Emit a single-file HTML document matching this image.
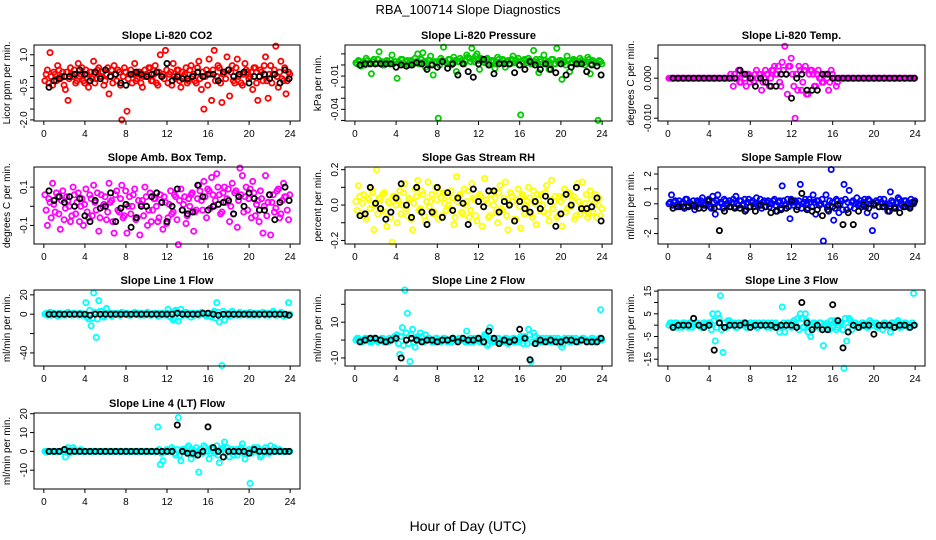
<!DOCTYPE html>
<html><head><meta charset="utf-8"><style>
html,body{margin:0;padding:0;background:#fff;}
svg{display:block;font-family:"Liberation Sans",sans-serif;}
</style></head><body>
<svg id="c" width="936" height="540" viewBox="0 0 936 540">
<text x="468" y="14" text-anchor="middle" font-size="13">RBA_100714  Slope Diagnostics</text>
<text x="468" y="531" text-anchor="middle" font-size="14">Hour of Day (UTC)</text>
</svg>
<script>
const hours = [0.1,0.35,0.6,0.85,1.1,1.35,1.6,1.85,2.1,2.35,2.6,2.85,3.1,3.35,3.6,3.85,4.1,4.35,4.6,4.85,5.1,5.35,5.6,5.85,6.1,6.35,6.6,6.85,7.1,7.35,7.6,7.85,8.1,8.35,8.6,8.85,9.1,9.35,9.6,9.85,10.1,10.35,10.6,10.85,11.1,11.35,11.6,11.85,12.1,12.35,12.6,12.85,13.1,13.35,13.6,13.85,14.1,14.35,14.6,14.85,15.1,15.35,15.6,15.85,16.1,16.35,16.6,16.85,17.1,17.35,17.6,17.85,18.1,18.35,18.6,18.85,19.1,19.35,19.6,19.85,20.1,20.35,20.6,20.85,21.1,21.35,21.6,21.85,22.1,22.35,22.6,22.85,23.1,23.35,23.6,23.85];
const hours2 = [0.22,0.47,0.72,0.97,1.22,1.47,1.72,1.97,2.22,2.47,2.72,2.97,3.22,3.47,3.72,3.97,4.22,4.47,4.72,4.97,5.22,5.47,5.72,5.97,6.22,6.47,6.72,6.97,7.22,7.47,7.72,7.97,8.22,8.47,8.72,8.97,9.22,9.47,9.72,9.97,10.22,10.47,10.72,10.97,11.22,11.47,11.72,11.97,12.22,12.47,12.72,12.97,13.22,13.47,13.72,13.97,14.22,14.47,14.72,14.97,15.22,15.47,15.72,15.97,16.22,16.47,16.72,16.97,17.22,17.47,17.72,17.97,18.22,18.47,18.72,18.97,19.22,19.47,19.72,19.97,20.22,20.47,20.72,20.97,21.22,21.47,21.72,21.97,22.22,22.47,22.72,22.97,23.22,23.47,23.72,23.97];
const hoursB = [0.5,1,1.5,2,2.5,3,3.5,4,4.5,5,5.5,6,6.5,7,7.5,8,8.5,9,9.5,10,10.5,11,11.5,12,12.5,13,13.5,14,14.5,15,15.5,16,16.5,17,17.5,18,18.5,19,19.5,20,20.5,21,21.5,22,22.5,23,23.5,23.9];
const xTicks = [0,4,8,12,16,20,24];

const co2 = [-0.2,0.3,1.1,-0.4,0.1,0.5,-0.1,0.2,-0.6,-1.1,0.4,0.0,-0.3,0.6,0.1,-0.2,0.3,-0.5,0.2,0.7,-0.1,0.4,0.0,-0.4,0.1,-0.8,0.3,0.5,-0.2,0.2,-2.0,0.4,-1.6,0.1,-0.3,0.6,-0.1,0.2,-0.5,0.3,0.0,0.4,-0.2,0.5,-0.4,1.0,0.1,1.2,-0.3,0.2,0.6,-0.1,0.3,-0.5,0.0,0.4,-0.2,0.5,0.1,-0.3,0.7,-0.6,-1.5,0.3,0.8,-1.1,1.2,0.0,0.4,-1.2,0.2,0.9,-0.9,0.5,-0.3,0.8,0.1,-0.4,0.6,0.2,0.0,-0.6,0.4,-1.1,0.3,-0.2,0.9,-1.0,0.5,0.1,1.4,-0.5,0.7,-0.2,-0.8,0.2];
const co2b = [0.1,-0.3,0.0,0.2,-0.2,0.3,0.0,-0.4,0.2,-0.1,0.1,0.3,-0.2,0.0,0.4,-0.3,0.1,0.2,-0.1,-0.3,0.3,0.0,0.2,-0.2,0.4,0.0,-0.3,0.1,0.3,-0.4,0.0,0.2,-0.1,0.3,0.1,-0.2,0.2,-0.3,0.0,0.1,0.4,-0.2,0.1,-0.3,0.2,0.0,-0.1,0.3,0.1,-0.4,0.0,0.3,-0.2,0.2,0.1,-0.3,0.3,0.0,-0.2,0.4,-0.1,0.2,0.0,-0.4,0.1,0.3,-0.2,0.5,-0.3,0.1,-0.1,0.3,0.2,-0.2,0.4,0.0,-0.3,0.1,0.3,-0.1,0.2,0.4,-0.3,0.0,0.2,0.5,-0.2,0.1,-0.3,0.3,0.0,0.2,-0.1,0.4,-0.2,0.1];
const co2B = [-0.5,-0.2,-0.1,0.0,0.0,0.1,0.3,0.1,-0.2,0.2,-0.1,0.3,0.0,0.1,-0.3,-0.4,0.1,0.2,0.1,0.0,0.1,0.2,0.0,0.6,-0.2,0.0,-0.1,-0.1,0.0,0.2,0.0,0.1,0.1,-0.2,0.2,0.3,0.0,0.1,0.2,-0.3,0.0,0.0,0.1,-0.1,0.1,-0.3,0.3,-0.1];
const co2Ticks = [1.0,0.5,0.0,-0.5,-1.0,-1.5,-2.0];
const co2Labels = ["1.0","","","-0.5","","","-2.0"];

const press = [0.002,0.004,-0.001,0.003,0.006,0.001,-0.008,0.005,0.002,0.012,0.003,0.000,0.004,0.001,0.009,0.003,-0.012,0.002,0.005,0.001,0.004,0.003,0.000,0.006,0.010,0.002,0.011,-0.002,0.004,0.008,-0.009,0.003,-0.048,0.006,0.016,0.002,0.005,0.000,0.007,-0.006,0.003,0.004,0.001,0.009,0.006,0.015,0.003,0.010,-0.004,0.005,0.002,0.006,0.000,0.004,-0.003,0.007,0.002,0.005,-0.002,0.004,0.001,0.008,0.003,0.006,-0.045,0.002,0.004,0.006,0.001,0.013,0.005,-0.007,0.003,0.009,0.002,-0.004,0.005,0.001,0.015,0.004,-0.013,0.003,0.008,-0.006,0.002,0.004,0.001,0.006,0.003,0.000,0.007,-0.008,0.004,0.002,-0.050,0.003];
const pressb = [0.001,0.003,0.002,0.000,0.004,0.002,0.003,0.001,0.005,0.002,0.000,0.003,0.002,0.004,0.001,0.003,0.002,0.005,0.001,0.003,0.000,0.004,0.002,0.003,0.001,0.005,0.003,0.002,0.004,0.001,0.003,0.002,0.000,0.004,0.003,0.001,0.005,0.002,0.004,0.003,0.006,0.002,0.004,0.007,0.003,0.005,0.008,0.004,0.006,0.003,0.005,0.002,0.004,0.003,0.001,0.005,0.002,0.004,0.003,0.001,0.005,0.002,0.004,0.000,0.003,0.005,0.002,0.004,0.001,0.003,0.002,0.005,0.001,0.004,0.003,0.002,0.005,0.001,0.003,0.004,0.002,0.000,0.004,0.002,0.005,0.003,0.001,0.004,0.002,0.003,0.005,0.001,0.003,0.002,0.004,0.001];
const pressB = [0.000,0.001,0.001,0.001,0.001,0.001,0.001,-0.002,0.000,-0.001,0.000,0.002,0.001,-0.004,0.000,-0.002,0.003,-0.003,0.001,-0.009,0.001,-0.006,-0.011,0.001,0.005,0.000,-0.008,0.001,0.001,0.001,-0.007,0.000,-0.004,0.003,0.000,-0.004,0.001,-0.004,-0.007,0.001,-0.009,-0.002,0.001,0.001,-0.006,0.000,-0.001,-0.009];
const pressTicks = [0.01,0,-0.01,-0.02,-0.03,-0.04,-0.05];
const pressLabels = ["","","-0.01","","","-0.04",""];

const temp = [0,0,0,0,0,0,0,0,0,0,0,0,0,0,0,0,0,0,0,0,0,0,0,0,0.001,-0.002,0.000,0.002,-0.001,0.001,-0.002,0.001,0.000,-0.001,0.002,0.001,-0.003,0.000,0.001,-0.002,0.002,0.003,0.001,-0.001,0.004,0.008,-0.004,0.003,0.001,-0.010,-0.003,0.002,-0.001,0.003,-0.004,0.002,0.001,-0.002,0.002,0.000,-0.001,0.001,-0.003,0.002,0.000,-0.002,0,0,0,0,0,0,0,0,0,0,0,0,0,0,0,0,0,0,0,0,0,0,0,0,0,0,0,0,0,0];
const tempb = [0,0,0,0,0,0,0,0,0,0,0,0,0,0,0,0,0,0,0,0,0,0,0,0,0,0.001,0,-0.001,0.001,0.000,0.001,-0.001,0.000,0.001,0.000,0.001,-0.001,0.002,0.001,0.000,0.002,0.001,0.003,-0.002,0.002,0.001,0.003,0.005,-0.002,0.001,0.003,-0.003,0.002,-0.004,0.001,0.002,-0.002,0.001,0.000,-0.001,0.001,0.000,-0.001,0.001,0.000,-0.001,0,0,0,0,0,0,0,0,0,0,0,0,0,0,0,0,0,0,0,0,0,0,0,0,0,0,0,0,0,0];
const tempB = [0,0,0,0,0,0,0,0,0,0,0,0,0,0.002,0.001,0,-0.002,0,-0.001,-0.002,-0.002,0.001,0.001,-0.005,0,0.001,-0.003,-0.003,-0.003,0.001,0.001,0,0,0,0,0,0,0,0,0,0,0,0,0,0,0,0,0];
const tempTicks = [0.005,0,-0.005,-0.01];
const tempLabels = ["","0.000","","-0.010"];

const amb = [0.06,-0.1,0.02,0.12,-0.03,0.05,-0.12,0.08,-0.01,0.03,-0.08,0.1,-0.04,0.07,0.0,-0.1,0.09,-0.06,0.04,0.11,-0.02,-0.13,0.06,0.01,-0.07,0.12,0.03,-0.14,0.08,-0.03,0.11,-0.05,-0.14,0.05,0.0,0.09,-0.06,-0.15,0.03,0.1,-0.1,0.07,-0.02,0.04,-0.08,0.06,-0.12,0.02,-0.06,0.08,-0.03,0.05,-0.2,0.09,0.01,-0.09,0.04,0.06,-0.13,-0.02,0.11,0.03,0.13,-0.06,0.08,0.15,0.0,0.17,0.06,-0.03,0.1,0.04,-0.08,0.12,0.07,-0.11,0.2,0.16,0.05,-0.02,0.09,0.13,-0.05,0.03,0.08,-0.14,0.16,0.02,-0.15,0.06,-0.01,0.09,-0.04,0.12,0.05,-0.07];
const ambb = [-0.02,0.04,-0.06,0.01,0.07,-0.04,0.03,-0.07,0.05,0.0,-0.05,0.06,0.02,-0.08,0.04,0.01,-0.03,0.06,-0.05,0.02,0.07,-0.06,0.0,0.05,-0.03,0.02,-0.08,0.06,-0.02,0.04,-0.06,0.08,0.0,-0.04,0.06,-0.07,0.03,0.01,-0.05,0.05,-0.02,-0.08,0.04,0.0,-0.06,0.02,0.05,-0.09,0.01,-0.04,0.06,-0.07,0.03,-0.02,0.05,-0.05,0.0,0.07,-0.03,0.04,0.08,-0.02,0.05,0.09,-0.01,0.06,0.03,0.1,-0.04,0.07,0.02,0.09,0.0,-0.04,0.08,0.03,0.06,-0.03,0.1,0.04,-0.06,0.07,0.01,-0.08,0.04,0.0,-0.05,0.06,0.02,-0.03,0.08,-0.06,0.03,0.05,-0.02,0.06];
const ambB = [0.08,0.03,0.05,0.02,0.05,0.0,0.04,-0.05,-0.08,0.03,-0.01,0.0,0.07,-0.08,-0.01,0.01,-0.11,-0.06,0.0,0.0,0.05,0.07,0.02,-0.08,0.0,0.09,-0.02,-0.04,-0.03,0.11,0.05,-0.02,0.0,0.01,0.02,0.03,-0.04,0.05,0.0,0.07,0.04,-0.02,-0.02,0.06,-0.07,0.02,0.1,0.03];
const ambTicks = [0.1,0,-0.1];
const ambLabels = ["0.1","","-0.1"];

const rh = [0.02,0.11,-0.05,0.06,-0.08,0.03,0.09,-0.14,0.2,0.04,-0.03,0.07,-0.12,0.01,-0.21,0.05,-0.1,0.08,0.0,0.12,-0.06,0.03,-0.14,0.09,0.14,-0.02,0.06,-0.09,0.13,0.02,-0.05,0.1,-0.08,0.04,0.07,-0.03,0.0,0.08,-0.11,0.16,0.05,-0.04,0.09,0.02,-0.07,0.12,0.03,-0.09,0.06,-0.12,0.15,0.01,-0.06,0.08,0.04,-0.1,0.11,-0.03,0.13,-0.14,0.07,0.02,-0.08,0.09,-0.13,0.05,0.0,0.1,-0.05,0.08,-0.11,0.03,0.06,-0.04,0.11,-0.09,0.14,0.02,-0.07,0.05,-0.12,0.09,-0.02,0.06,0.03,-0.08,0.12,-0.05,0.13,0.01,-0.07,0.08,-0.04,0.06,0.0,-0.06];
const rhb = [-0.03,0.05,0.01,-0.06,0.04,-0.02,0.07,0.0,-0.05,0.03,0.06,-0.04,0.02,-0.07,0.05,0.0,0.03,-0.05,0.07,-0.02,0.04,-0.08,0.01,0.05,-0.03,0.08,-0.06,0.02,-0.01,0.06,-0.04,0.03,0.07,-0.06,0.01,0.05,-0.02,0.04,-0.07,0.02,0.06,-0.05,0.0,0.08,-0.03,0.04,-0.06,0.02,0.05,-0.01,0.03,-0.07,0.06,0.0,-0.04,0.07,-0.02,0.04,-0.06,0.01,0.05,-0.08,0.03,-0.01,0.06,-0.05,0.02,0.04,-0.07,0.01,0.06,-0.03,0.0,0.07,-0.05,0.03,-0.02,0.05,-0.06,0.02,0.04,-0.04,0.07,-0.01,0.05,-0.06,0.02,0.0,-0.03,0.06,-0.05,0.03,0.01,-0.07,0.04,-0.02];
const rhB = [-0.06,-0.05,0.1,0.01,-0.02,-0.08,-0.04,0.04,0.12,0.0,-0.07,0.1,-0.04,-0.11,-0.04,0.1,-0.07,0.07,-0.03,0.04,0.01,-0.11,0.09,0.02,-0.01,0.08,0.08,-0.04,0.02,0.0,-0.09,0.02,-0.02,-0.04,0.02,-0.02,0.05,0.02,-0.12,-0.05,0.06,0.0,0.1,-0.02,-0.02,-0.01,0.04,-0.09];
const rhTicks = [0.2,0.1,0,-0.1,-0.2];
const rhLabels = ["0.2","","0.0","","-0.2"];

const sflow = [0.0,0.6,0.1,-0.2,0.2,0.0,-0.3,0.3,0.1,-0.1,-0.4,0.2,0.0,0.4,-0.1,0.2,-0.2,0.5,-0.7,0.6,0.1,-0.3,0.2,0.0,-0.2,0.3,0.5,-0.1,0.2,0.0,-0.4,0.3,0.1,-0.2,0.4,0.0,-0.3,0.2,0.1,-0.2,0.0,0.3,-0.5,0.2,1.2,-0.1,0.3,-1.0,0.1,0.2,-0.2,1.3,0.0,0.3,-0.3,0.1,0.6,-0.7,0.2,0.0,-2.5,0.6,-0.5,2.3,-1.1,0.3,-0.6,0.2,1.3,-0.4,0.9,0.1,-0.3,0.4,0.0,-0.2,0.3,-0.6,0.2,-1.8,-0.8,0.1,0.3,-0.2,0.0,-0.5,0.8,0.1,-0.3,0.4,0.0,-0.2,0.2,-0.1,0.3,0.0];
const sflowb = [0.1,-0.1,0.2,0.0,-0.2,0.1,0.3,-0.1,0.0,0.2,-0.2,0.1,0.2,-0.1,0.0,0.3,-0.3,0.1,0.2,-0.2,0.0,0.3,-0.1,0.2,0.1,-0.2,0.0,0.2,-0.1,0.3,0.1,-0.2,0.2,0.0,-0.1,0.3,0.1,-0.2,0.2,0.0,0.2,-0.1,0.1,-0.3,0.2,0.0,-0.2,0.3,-0.1,0.1,0.2,-0.3,0.1,0.0,0.3,-0.2,0.1,0.2,-0.1,0.3,0.0,-0.2,0.2,0.1,-0.3,0.2,0.0,-0.4,0.3,0.1,-0.2,0.2,0.0,-0.1,0.2,0.1,-0.2,0.3,0.0,-0.1,0.2,-0.2,0.1,0.3,-0.1,0.0,0.2,-0.2,0.1,0.3,-0.1,0.2,0.0,-0.2,0.1,0.2];
const sflowB = [-0.3,-0.2,-0.2,-0.2,-0.1,-0.3,-0.3,0.2,-0.3,-1.8,-0.5,-0.2,-0.3,-0.3,-0.5,-0.2,-0.5,-0.1,-0.2,-0.6,-0.5,-0.4,-0.3,0.2,-0.4,0.7,-0.4,-0.5,-0.4,-0.8,-0.4,-0.2,-0.1,-1.4,-0.6,-1.4,-0.5,-0.1,-0.3,0.0,-0.2,-0.2,-0.5,-0.3,-0.6,-0.2,-0.3,0.1];
const sflowTicks = [2,1,0,-1,-2];
const sflowLabels = ["2","1","0","","-2"];

const l1 = [0,-1,2,1,0,-2,1,0,-1,2,0,1,0,-1,1,0,12,-5,-12,22,-24,14,3,-3,6,0,-2,1,0,-1,2,0,1,-1,0,2,0,-1,1,0,2,-1,0,1,-2,0,1,-1,5,-3,-6,4,-7,5,-1,2,0,-3,1,0,-1,2,0,-2,1,-3,3,12,-8,-53,-6,1,-2,3,0,-1,2,0,1,-1,2,0,-1,1,0,2,-1,0,1,3,-1,0,2,-2,0,12];
const l1b = [1,0,-1,1,0,1,-1,0,1,0,-1,1,0,1,-1,0,-3,4,-4,2,-5,3,-2,1,0,1,-1,0,1,-1,0,1,0,-1,1,0,1,0,-1,1,0,-1,1,0,1,-1,0,1,-2,2,-4,3,-3,1,0,-1,1,0,-1,1,0,1,-1,0,-2,1,-4,2,-3,3,-1,0,1,-1,0,1,-1,0,1,0,-1,1,0,-1,1,0,1,-1,0,1,-1,0,1,0,-1,0];
const l1B = [0,0,0,0,0,0,0,0,-1,0,0,0,0,0,0,0,0,0,0,0,0,0,0,0,0,1,0,0,0,0,1,1,0,-1,0,0,0,0,0,0,0,0,0,0,0,0,0,-1];
const l1Ticks = [20,0,-20,-40];
const l1Labels = ["20","0","","-40"];

const l2 = [0,1,-1,0,1,0,-1,1,0,0,1,-1,0,1,0,2,3,-8,7,28,15,-12,6,-4,2,4,-1,3,1,0,-1,1,0,-1,1,0,0,-1,1,0,1,0,0,5,-1,0,1,0,-1,1,3,-3,7,-1,0,1,-1,0,1,-2,0,1,-1,0,2,-2,1,6,-12,4,-2,1,0,-1,1,0,-1,1,0,-2,-4,1,0,-1,1,0,-1,0,1,0,-1,0,1,-1,0,17];
const l2b = [1,0,-1,1,0,-1,0,1,-1,0,1,0,-1,0,1,1,-2,2,-3,4,-2,3,-1,1,0,2,-1,0,1,-1,0,1,-1,0,1,-1,0,1,0,-1,1,0,-1,0,1,-1,0,1,0,-1,2,-2,1,0,-1,1,0,-1,1,0,-1,1,0,-1,1,2,-2,3,-1,2,0,-1,1,0,-1,1,0,-1,1,0,-2,0,1,-1,0,1,-1,0,1,0,-1,1,0,-1,1,0];
const l2B = [-1,0,1,1,0,-1,0,1,-10,0,1,0,-1,0,0,-1,0,0,1,-1,1,0,0,1,-1,5,1,-2,0,-1,0,6,1,-11,-2,0,-1,0,-1,-1,0,0,-1,0,-1,-1,-1,1];
const l2Ticks = [20,10,0,-10];
const l2Labels = ["","10","","-10"];

const l3 = [0,1,-1,1,0,-1,1,0,1,-1,0,1,0,-1,1,0,1,5,-7,5,13,-12,-1,2,1,0,-1,1,0,1,-1,0,1,0,-1,1,0,1,-1,0,1,0,-1,-3,8,-3,1,0,1,0,3,5,-1,5,-3,-5,1,0,-1,1,-9,0,-1,2,1,-2,0,1,-19,-7,3,-2,1,0,-1,1,0,-1,2,0,1,-1,0,-2,1,0,-3,1,0,2,-1,0,1,-1,0,14];
const l3b = [1,0,1,-1,0,1,0,-1,1,0,1,0,-1,1,0,1,-2,2,-1,3,-2,1,-1,2,0,1,-1,0,1,0,-1,1,0,1,-1,0,1,0,1,-1,0,1,0,-1,1,0,1,-1,2,0,-2,3,-1,2,0,-1,1,0,1,-1,0,1,-2,0,2,-1,1,-2,3,-1,2,0,1,-1,0,1,0,-1,1,0,1,-1,0,1,0,-1,1,0,1,-1,0,1,0,-1,1,0];
const l3B = [-1,0,0,0,3,0,-1,0,-11,1,-1,0,0,0,1,-1,0,0,0,0,-1,0,0,0,-1,10,1,-2,0,-2,-2,9,2,-10,-3,0,-1,0,0,-4,0,0,0,-1,0,0,-1,0];
const l3Ticks = [15,10,5,0,-5,-10,-15];
const l3Labels = ["15","","5","","-5","","-15"];

const l4 = [0,0,0,0,0,0,0,0,-3,2,0,2,0,0,1,0,0,0,0,0,0,0,0,0,0,0,0,0,0,0,0,0,0,0,0,0,0,0,0,0,0,0,0,0,13,-7,-5,0,0,0,1,-2,18,-5,1,0,3,-4,0,2,-11,1,3,0,-4,2,-1,3,-6,1,5,2,-3,1,0,-2,1,4,-4,0,-17,0,1,2,-3,0,2,-1,3,0,1,0,0,0,0,0];
const l4b = [0,0,0,0,0,0,0,0,1,-1,0,1,0,0,0,0,0,0,0,0,0,0,0,0,0,0,0,0,0,0,0,0,0,0,0,0,0,0,0,0,0,0,0,0,1,-1,0,1,0,2,-1,1,-2,1,0,2,-1,1,-2,0,1,-1,2,0,-1,1,0,-2,1,2,-1,0,1,-2,1,0,2,-1,0,1,-1,2,0,1,-2,0,1,-1,0,2,0,1,0,0,0,0];
const l4B = [0,0,0,1,0,0,0,0,0,0,0,0,0,0,0,0,0,0,0,0,0,0,0,0,0,14,0,-1,-1,-2,0,13,2,0,-3,0,0,0,0,-1,1,0,0,0,0,0,0,0];
const l4Ticks = [20,10,0,-10];
const l4Labels = ["20","10","0","-10"];

const NS = "http://www.w3.org/2000/svg";
const svg = document.getElementById('c');
const cols = [{l:34,r:300},{l:345,r:612},{l:658,r:925}];
const rows = [{t:45,b:121},{t:167,b:244},{t:290,b:366},{t:413,b:489}];
function mk(tag, attrs, parent){
  const e = document.createElementNS(NS, tag);
  for (const k in attrs) e.setAttribute(k, attrs[k]);
  (parent||svg).appendChild(e); return e;
}
function panel(key, title, ytitle, col, row, ymin, ymax, vals, vals2, valsB, color, ticks, labels){
  const C = cols[col], R = rows[row];
  const g = mk('g', {});
  
  
  const xs = h => C.l + (h + 0.96) / 25.92 * (C.r - C.l);
  const ys = v => R.b - (v - ymin) / (ymax - ymin) * (R.b - R.t);
  const t = mk('text', {x:(C.l+C.r)/2, y:R.t-6, 'text-anchor':'middle', 'font-size':11, 'font-weight':'bold'}, g);
  t.textContent = title;
  
  
  const yt = mk('text', {x:0, y:0, 'text-anchor':'middle', 'font-size':10, transform:`translate(${C.l-24},${(R.t+R.b)/2}) rotate(-90)`}, g);
  yt.textContent = ytitle;
  
  
  const pg = mk('g', {fill:'none'}, g);
  
  
  const n = Math.min(vals.length, hours.length);
  for (let i=0;i<n;i++){
    const c = mk('circle', {cx:xs(hours[i]).toFixed(1), cy:ys(vals[i]).toFixed(1), r:2.6, stroke:color, 'stroke-width':1.8}, pg);
    
    
  }
  const n2 = Math.min(vals2.length, hours2.length);
  for (let i=0;i<n2;i++){
    const c = mk('circle', {cx:xs(hours2[i]).toFixed(1), cy:ys(vals2[i]).toFixed(1), r:2.6, stroke:color, 'stroke-width':1.8}, pg);
    
    
  }
  const bg = mk('g', {fill:'none'}, g);
  
  
  const m = Math.min(valsB.length, hoursB.length);
  for (let i=0;i<m;i++){
    const c = mk('circle', {cx:xs(hoursB[i]).toFixed(1), cy:ys(valsB[i]).toFixed(1), r:2.6, stroke:'#000', 'stroke-width':1.8}, bg);
    
    
  }
  const box = mk('rect', {x:C.l, y:R.t, width:C.r-C.l, height:R.b-R.t, fill:'none', stroke:'#000', 'stroke-width':1}, g);
  
  
  const xa = mk('g', {}, g);
  
  
  for (const h of xTicks){
    const x = xs(h);
    mk('line', {x1:x, x2:x, y1:R.b, y2:R.b+4, stroke:'#000'}, xa);
    const tl = mk('text', {x:x, y:R.b+16, 'text-anchor':'middle', 'font-size':10}, xa);
    tl.textContent = h;
    
    
  }
  const ya = mk('g', {}, g);
  
  
  ticks.forEach((v, i) => {
    const y = ys(v);
    if (y < R.t - 0.5 || y > R.b + 0.5) return;
    mk('line', {x1:C.l-4, x2:C.l, y1:y, y2:y, stroke:'#000'}, ya);
    if (labels[i]){
      const tl = mk('text', {x:0, y:0, 'text-anchor':'middle', 'font-size':10, transform:`translate(${C.l-7},${y}) rotate(-90)`}, ya);
      tl.textContent = labels[i];
      
      
    }
  });
}
panel('co2','Slope Li-820 CO2','Licor ppm per min.',0,0,-2.05,1.45,co2,co2b,co2B,'#ff0000',co2Ticks,co2Labels);
panel('pressure','Slope Li-820 Pressure','kPa per min.',1,0,-0.0505,0.018,press,pressb,pressB,'#00cc00',pressTicks,pressLabels);
panel('li820-temp','Slope Li-820 Temp.','degrees C per min.',2,0,-0.0107,0.0083,temp,tempb,tempB,'#ff00ff',tempTicks,tempLabels);
panel('amb-box-temp','Slope Amb. Box Temp.','degrees C per min.',0,1,-0.197,0.205,amb,ambb,ambB,'#ff00ff',ambTicks,ambLabels);
panel('gas-stream-rh','Slope Gas Stream RH','percent per min.',1,1,-0.22,0.215,rh,rhb,rhB,'#ffff00',rhTicks,rhLabels);
panel('sample-flow','Slope Sample Flow','ml/min per min.',2,1,-2.7,2.47,sflow,sflowb,sflowB,'#0000ff',sflowTicks,sflowLabels);
panel('line1-flow','Slope Line 1 Flow','ml/min per min.',0,2,-53.5,25,l1,l1b,l1B,'#00ffff',l1Ticks,l1Labels);
panel('line2-flow','Slope Line 2 Flow','ml/min per min.',1,2,-14.5,28,l2,l2b,l2B,'#00ffff',l2Ticks,l2Labels);
panel('line3-flow','Slope Line 3 Flow','ml/min per min.',2,2,-18,15.5,l3,l3b,l3B,'#00ffff',l3Ticks,l3Labels);
panel('line4-flow','Slope Line 4 (LT) Flow','ml/min per min.',0,3,-20,20.4,l4,l4b,l4B,'#00ffff',l4Ticks,l4Labels);
</script>
</body></html>
